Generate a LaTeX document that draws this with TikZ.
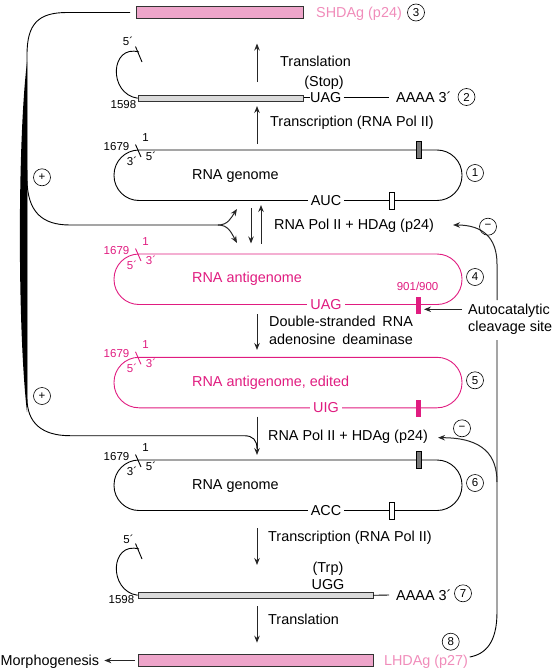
\documentclass[tikz,border=0pt]{standalone}
\usepackage{fontspec}
\setmainfont{Liberation Sans}
\usetikzlibrary{arrows.meta,positioning}

\definecolor{antipink}{RGB}{224,28,128}
\definecolor{protpink}{RGB}{240,140,186}
\definecolor{barpink}{RGB}{238,165,202}
\definecolor{markgray}{RGB}{120,120,120}
\definecolor{mrnagray}{RGB}{218,218,218}

\tikzset{
  lbl/.style={font=\fontsize{14.4}{17}\selectfont, inner sep=0pt, text height=10.3pt, text depth=0pt},
  sml/.style={font=\fontsize{11.5}{13}\selectfont, inner sep=0pt, text height=8.2pt, text depth=0pt},
  stepnum/.style={circle, draw, line width=0.6pt, minimum size=17pt, inner sep=0pt, font=\fontsize{11.5}{13}\selectfont},
  onrna/.style={lbl, fill=white, inner xsep=3pt},
  rnaline/.style={line width=0.9pt},
  rnaloop/.style={rnaline, rounded corners=25pt},
  flow/.style={line width=1pt, black!85, -{Stealth[length=7pt,width=5.5pt]}},
  protbar/.style={draw=black!80, fill=barpink, line width=0.8pt, inner sep=0pt, minimum height=12pt},
  mrnabar/.style={draw=black!80, fill=mrnagray, line width=0.7pt, inner sep=0pt, minimum height=5.5pt},
}

\begin{document}
\begin{tikzpicture}[x=1pt,y=-1pt]
\useasboundingbox (0,0) rectangle (552,669);

% genome and antigenome loops
\foreach \n/\yy/\col/\pa/\pb/\k in {ga/150/black/3/5/1, ag/254/antipink/5/3/4, ae/357.3/antipink/5/3/5, gb/460/black/3/5/6}{
  \draw[rnaloop, \col] (114,\yy) rectangle (462,\yy+50.5);
  \draw[rnaline, \col] (135.5,\yy-5.5) -- (141,\yy+7);
  \node[sml, \col, anchor=east] (\n-1679) at (129.5,\yy-4) {1679};
  \node[sml, \col] (\n-1) at (145.5,\yy-12.7) {1};
  \node[sml, \col] (\n-left) at (132,\yy+11.5) {{\pa}´};
  \node[sml, \col] (\n-right) at (151,\yy+6.3) {{\pb}´};
  \node[stepnum] (\n-num) at (475,\yy+23) {\k};
}
\node[lbl, anchor=west] (ga-txt) at (192,174) {RNA genome};
\node[lbl, antipink, anchor=west] (ag-txt) at (192,277.7) {RNA antigenome};
\node[lbl, antipink, anchor=west] (ae-txt) at (192,381.7) {RNA antigenome, edited};
\node[lbl, anchor=west] (gb-txt) at (192,484.3) {RNA genome};

% markers
\foreach \yy in {150,460}{
  \draw[line width=0.6pt, fill=markgray] (416.5,\yy-8.5) rectangle (421.5,\yy+8.5);
  \draw[line width=0.6pt, fill=white] (389.5,\yy+42) rectangle (394.5,\yy+59);
}
\foreach \yy in {254,357.3}
  \fill[antipink] (415.5,\yy+42.5) rectangle (421,\yy+59.5);
\node[onrna] (auc) at (326,200.5) {AUC};
\node[onrna, text=antipink] (uag-ag) at (326,304.5) {UAG};
\node[onrna, text=antipink] (uig) at (326,407.8) {UIG};
\node[onrna] (acc) at (326,510.5) {ACC};
\node[sml, antipink] (cut) at (417.6,286.7) {901/900};

% short protein and its mRNA
\node[protbar, minimum width=167.5pt] (shdag) at (219.75,12.5) {};
\node[lbl, protpink, anchor=west] (shdag-l) at (316,12.5) {SHDAg (p24)};
\node[stepnum] (n3) at (416,12.5) {3};
\node[mrnabar, minimum width=165.5pt] (mrna1) at (220.75,98.2) {};
\node[lbl, anchor=west] (uag) at (310,97.5) {UAG};
\node[lbl] (stop) at (324,81.7) {(Stop)};
\node[lbl, anchor=west] (aaaa1) at (396,97.5) {AAAA 3´};
\node[stepnum] (n2) at (466.5,97) {2};
\node[sml] (l1598a) at (123.5,104) {1598};
\node[sml] (cap1) at (128,41.7) {5´};
\draw[rnaline] (mrna1.east |- uag.west) -- (uag.west);
\draw[rnaline] ([xshift=2pt]uag.east) -- ([xshift=-7pt]aaaa1.west);
\draw[rnaline] (mrna1.west) .. controls (108,94) and (110,44) .. (139,52);
\draw[rnaline] (135.5,46.5) -- (142,62);

% long protein and its mRNA
\node[mrnabar, minimum width=235pt] (mrna2) at (255.5,595.3) {};
\node[lbl] (trp) at (328,567.3) {(Trp)};
\node[lbl] (ugg) at (328,584) {UGG};
\node[lbl, anchor=west] (aaaa2) at (396,595) {AAAA 3´};
\node[stepnum] (n7) at (463,593.3) {7};
\node[sml] (l1598b) at (121.5,599.3) {1598};
\node[sml] (cap2) at (128.5,539) {5´};
\draw[rnaline] (mrna2.east) -- ([xshift=-7pt]aaaa2.west);
\draw[rnaline] (mrna2.west) .. controls (108,591) and (110,541) .. (139,549);
\draw[rnaline] (135.5,543.5) -- (142,559);
\node[protbar, minimum width=235pt, minimum height=12.4pt] (lhdag) at (255.5,660.5) {};
\node[lbl, protpink, anchor=west] (lhdag-l) at (383.8,660) {LHDAg (p27)};
\node[stepnum] (n8) at (450.7,641.7) {8};
\node[lbl, anchor=west] (morph) at (0.5,660.5) {Morphogenesis};
\draw[flow] ([xshift=-2.5pt]lhdag.west) -- ([xshift=5pt]morph.east);

% steps
\coordinate (tl1a) at (257,82);    \coordinate (tl1b) at (257,43.5);
\coordinate (tc1a) at (257,144);   \coordinate (tc1b) at (257,106);
\coordinate (rpd-a) at (251,208);  \coordinate (rpd-b) at (251,243.5);
\coordinate (rpu-a) at (261,243.5);\coordinate (rpu-b) at (261,205);
\coordinate (ds-a) at (257,314);   \coordinate (ds-b) at (257,350);
\coordinate (rp2-a) at (257,416.7);\coordinate (rp2-b) at (257,455);
\coordinate (tc2a) at (257,528.3); \coordinate (tc2b) at (257,565);
\coordinate (tl2a) at (257,606);   \coordinate (tl2b) at (257,642.7);
\draw[flow] (tl1a) -- (tl1b);
\draw[flow] (tc1a) -- (tc1b);
\draw[flow] (rpd-a) -- (rpd-b);
\draw[flow] (rpu-a) -- (rpu-b);
\draw[flow] (ds-a) -- (ds-b);
\draw[flow] (rp2-a) -- (rp2-b);
\draw[flow] (tc2a) -- (tc2b);
\draw[flow] (tl2a) -- (tl2b);
\node[lbl, anchor=west] (tl1) at (280,61) {Translation};
\node[lbl, anchor=west] (tc1) at (270,121.7) {Transcription (RNA Pol II)};
\node[lbl, anchor=west] (rp1) at (274,224.3) {RNA Pol II + HDAg (p24)};
\node[lbl, anchor=west] (ds1) at (269,321.7) {\makebox[143.7pt][s]{Double-stranded RNA}};
\node[lbl, anchor=west] (ds2) at (269,339) {\makebox[143.7pt][s]{adenosine deaminase}};
\node[lbl, anchor=west] (rp2) at (268,435) {RNA Pol II + HDAg (p24)};
\node[lbl, anchor=west] (tc2) at (268,536.7) {Transcription (RNA Pol II)};
\node[lbl, anchor=west] (tl2) at (268,619.3) {Translation};

% positive feedback from SHDAg
\coordinate (lt0) at (130,12.5);
\coordinate (fork) at (218,225);
\coordinate (fk-up) at (237,209);
\coordinate (fk-dn) at (237,243);
\draw[rnaline] (lt0) -- (67,12.5) .. controls (38,12.5) and (27,24) .. (27,55) -- (27,178)
  .. controls (27,212) and (42,225) .. (70,225) -- (fork);
\draw[flow] (fork) .. controls (228,225) and (231,218) .. (fk-up);
\draw[flow] (fork) .. controls (228,225) and (231,232) .. (fk-dn);
\draw[rnaline] (27,170) -- (27,398) .. controls (27,423) and (42,435.7) .. (70,435.7) -- (244,435.7)
  .. controls (253,435.7) and (257,440) .. (257,449);
\fill (27,62) .. controls (17.5,140) and (17.5,330) .. (27,412) -- cycle;
\node[stepnum] (plus1) at (42,177.3) {+};
\node[stepnum] (plus2) at (42,396) {+};

% negative feedback from LHDAg
\coordinate (pos1) at (453,225);
\coordinate (pos2) at (438,437.7);
\coordinate (fb-top) at (497,300);
\coordinate (fb-mid) at (497,340);
\coordinate (fb-branch) at (497,482);
\draw[flow] (fb-top) -- (497,264) .. controls (497,238) and (483,225) .. (pos1);
\draw[rnaline] (fb-mid) -- (497,612) .. controls (497,642) and (486,654) .. ([xshift=1.5pt,yshift=3pt]lhdag-l.east);
\draw[flow] (fb-branch) .. controls (497,456) and (484,437.7) .. (pos2);
\node[lbl, anchor=west] (auto1) at (468,309.3) {Autocatalytic};
\node[lbl, anchor=west] (auto2) at (468,326.7) {cleavage site};
\coordinate (cutsite) at (424,309.3);
\draw[flow] ([xshift=-6pt]auto1.west) -- (cutsite);
\node[stepnum] (minus1) at (488,226.7) {−};
\node[stepnum] (minus2) at (462,428.3) {−};
\end{tikzpicture}
\end{document}
